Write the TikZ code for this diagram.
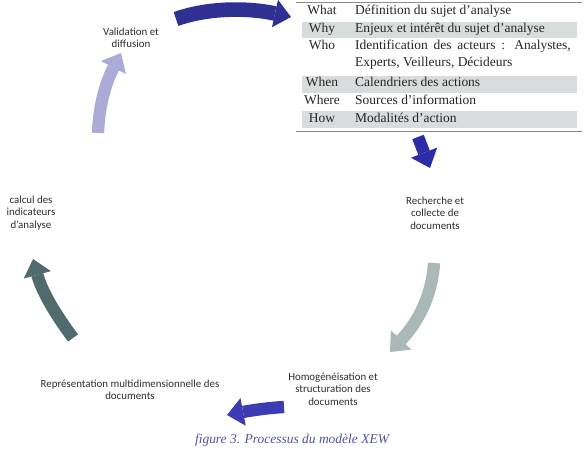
\documentclass[tikz,border=0pt]{standalone}
\usepackage{fontspec}
\setmainfont{Liberation Serif}
\newfontfamily\labelfont{Carlito}
\usetikzlibrary{arrows.meta}

\definecolor{navyarrow}{HTML}{2E3192}
\definecolor{bluearrow}{HTML}{2C2CAA}
\definecolor{midarrow}{HTML}{3B3BB4}
\definecolor{grayarrow}{HTML}{AAB8B8}
\definecolor{tealarrow}{HTML}{506B6D}
\definecolor{lilacarrow}{HTML}{ABABD8}
\definecolor{labelgray}{HTML}{2E2E2E}
\definecolor{rowgray}{HTML}{D9DCDC}
\definecolor{rulegray}{HTML}{8A8A8A}
\definecolor{captionblue}{HTML}{5252A2}

\begin{document}
\begin{tikzpicture}[x=0.03cm,y=-0.03cm,
    steplabel/.style={font=\labelfont\fontsize{9.3}{10.5}\selectfont,text=labelgray,align=center,inner sep=0pt},
    cell/.style={font=\fontsize{11.5}{14}\selectfont,text=black!85,inner sep=0pt},
    cyclearrow/.style={line width=10.5pt,-{Triangle[width=24pt,length=14pt,line width=0pt]}}]
    \useasboundingbox (0,0) rectangle (587,450);

    % table: what / why / who / when / where / how
    \fill[rowgray] (302,22) rectangle (577,38);
    \fill[rowgray] (302,76) rectangle (577,93);
    \fill[rowgray] (302,111) rectangle (577,128);
    \draw[rulegray,line width=0.8pt] (296,2) -- (582,2);
    \draw[rulegray,line width=0.8pt] (296,131) -- (582,131);
    \node[cell,anchor=mid] (what) at (322,12) {What};
    \node[cell,anchor=mid] (why) at (322,30) {Why};
    \node[cell,anchor=mid] (who) at (322,47) {Who};
    \node[cell,anchor=mid] (when) at (322,84) {When};
    \node[cell,anchor=mid] (where) at (322,102) {Where};
    \node[cell,anchor=mid] (how) at (322,120) {How};
    \node[cell,anchor=mid west] (whatv) at (355,12) {Définition du sujet d’analyse};
    \node[cell,anchor=mid west] (whyv) at (355,30) {Enjeux et intérêt du sujet d’analyse};
    \node[cell,anchor=mid west] (whov) at (355,47) {\makebox[184pt][s]{Identification des acteurs : Analystes,}};
    \node[cell,anchor=mid west] (whov2) at (355,64) {Experts, Veilleurs, Décideurs};
    \node[cell,anchor=mid west] (whenv) at (355,84) {Calendriers des actions};
    \node[cell,anchor=mid west] (wherev) at (355,102) {Sources d’information};
    \node[cell,anchor=mid west] (howv) at (355,120) {Modalités d’action};

    % steps of the cycle
    \node[steplabel] (valid) at (131,38) {Validation et\\diffusion};
    \node[steplabel] (recherche) at (435,213) {Recherche et\\collecte de\\documents};
    \node[steplabel] (homog) at (333,389) {Homogénéisation et\\structuration des\\documents};
    \node[steplabel] (repr) at (130,390) {Représentation multidimensionnelle des\\documents};
    \node[steplabel] (calcul) at (31,213) {calcul des\\indicateurs\\d’analyse};

    % block arrows
    \coordinate (topS) at (176,19);   \coordinate (topE) at (291,17);
    \coordinate (tabS) at (418,137);  \coordinate (tabE) at (430,168);
    \coordinate (rgtS) at (434,263);  \coordinate (rgtE) at (390,352);
    \coordinate (botS) at (284,407);  \coordinate (botE) at (227,415);
    \coordinate (lftS) at (73,338);   \coordinate (lftE) at (33,259);
    \coordinate (upS) at (98,133);    \coordinate (upE) at (121,53);
    \draw[cyclearrow,navyarrow,line width=12.5pt] (topS) .. controls (210,7) and (250,8) .. (topE);
    \draw[cyclearrow,bluearrow] (tabS) -- (tabE);
    \draw[cyclearrow,grayarrow] (rgtS) .. controls (432,296) and (418,322) .. (rgtE);
    \draw[cyclearrow,midarrow] (botS) .. controls (266,408) and (248,411) .. (botE);
    \draw[cyclearrow,tealarrow] (lftS) .. controls (56,315) and (42,292) .. (lftE);
    \draw[cyclearrow,lilacarrow] (upS) .. controls (99,105) and (106,82) .. (upE);

    \node[font=\itshape\fontsize{11.5}{14}\selectfont,text=captionblue] (caption) at (292,440) {figure 3. Processus du modèle XEW};
\end{tikzpicture}
\end{document}
